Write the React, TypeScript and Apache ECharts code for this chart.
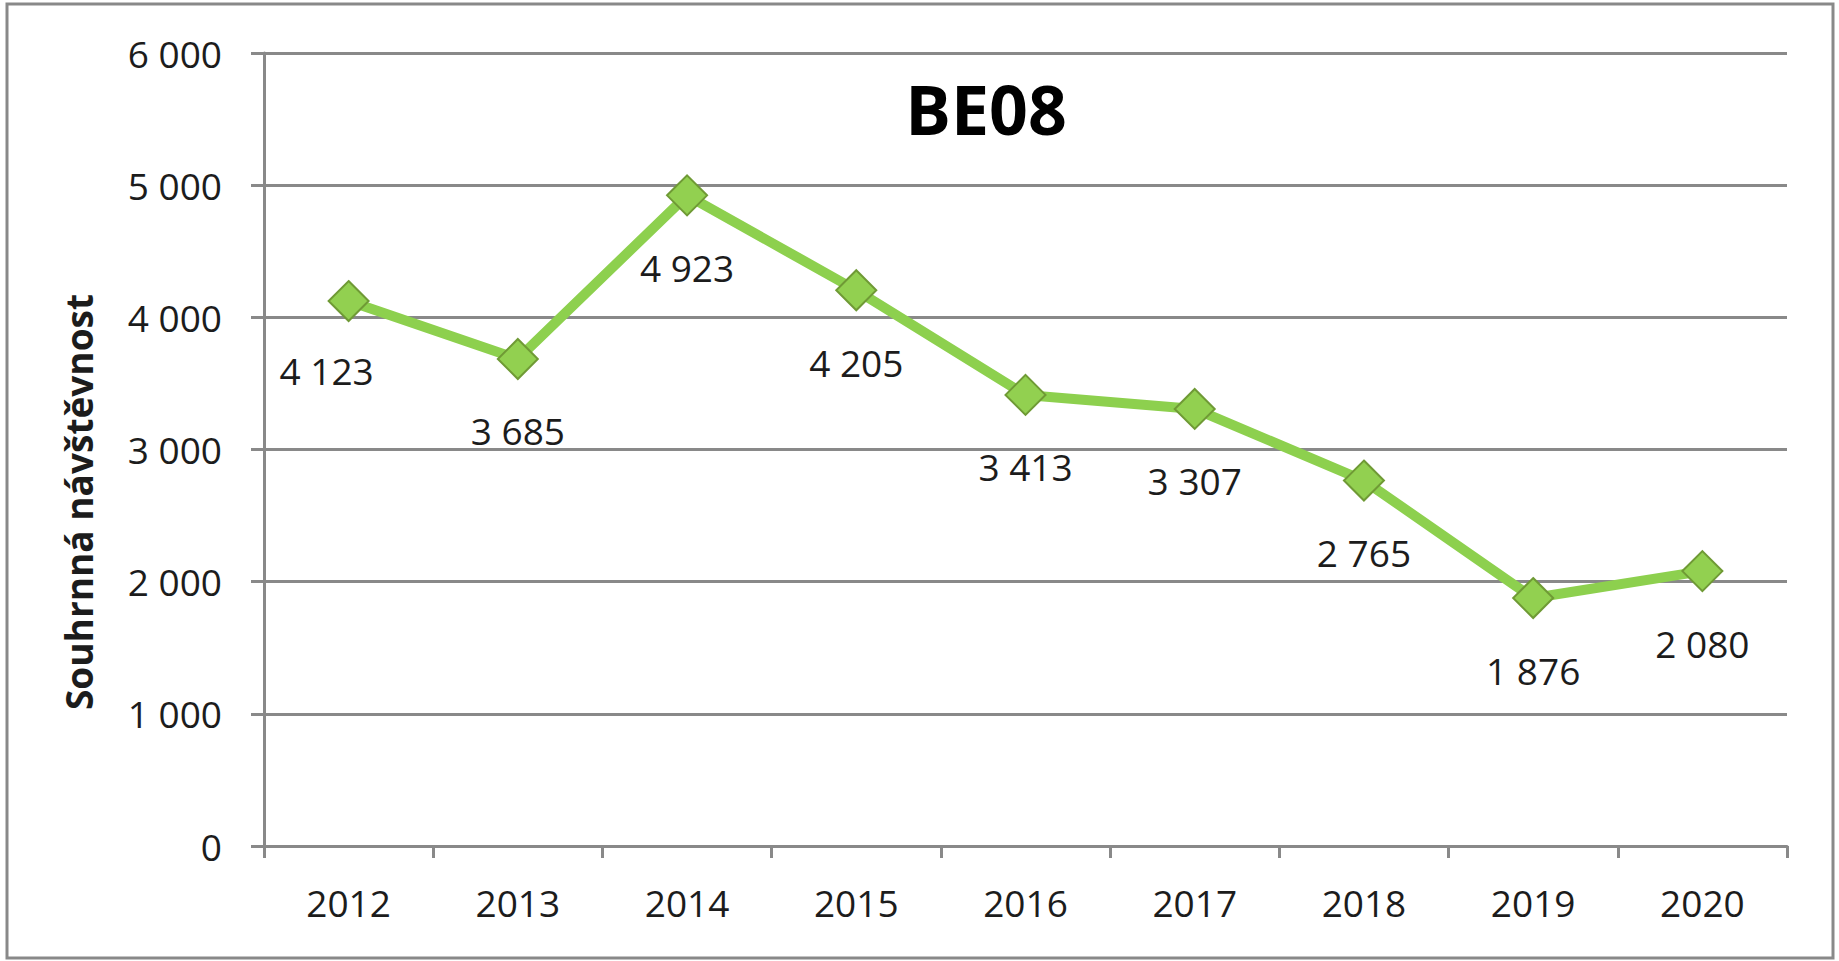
import React, { useEffect, useRef } from "react";
import * as echarts from "echarts";

const categories = ["2012", "2013", "2014", "2015", "2016", "2017", "2018", "2019", "2020"];
const visits = [4123, 3685, 4923, 4205, 3413, 3307, 2765, 1876, 2080];
const yTicks = { min: 0, max: 6000, interval: 1000 };
const titleText = "BE08";
const yAxisName = "Souhrnná návštěvnost";

const fmt = (v: number) => String(Math.round(v)).replace(/\B(?=(\d{3})+(?!\d))/g, " ");

export default function App() {
  const ref = useRef<HTMLDivElement>(null);
  useEffect(() => {
    if (!ref.current) return;
    const chart = echarts.init(ref.current, null, { renderer: "svg" });
    const FONT = "'Open Sans', 'Noto Sans', sans-serif";
    const gray = "#898989";
    const txt = "#1c1c1c";
    chart.setOption({
      animation: false,
      backgroundColor: "#ffffff",
      grid: { left: 264, right: 52, top: 53, bottom: 115, containLabel: false },
      graphic: [
        {
          type: "rect",
          shape: { x: 7, y: 4, width: 1826, height: 954 },
          style: { fill: "none", stroke: gray, lineWidth: 3 },
          z: 0,
        },
        {
          type: "text",
          x: 986,
          y: 108,
          style: {
            text: titleText,
            font: `bold 68px ${FONT}`,
            fill: "#000",
            align: "center",
            verticalAlign: "middle",
          },
          z: 10,
        },
        {
          type: "text",
          x: 78,
          y: 502,
          rotation: Math.PI / 2,
          style: {
            text: yAxisName,
            font: `bold 37px ${FONT}`,
            fill: txt,
            align: "center",
            verticalAlign: "middle",
          },
          z: 10,
        },
      ],
      xAxis: {
        type: "category",
        data: categories,
        boundaryGap: true,
        axisLine: { show: true, lineStyle: { color: gray, width: 3 } },
        axisTick: { show: true, length: 12, lineStyle: { color: gray, width: 3 } },
        axisLabel: { color: txt, fontFamily: FONT, fontSize: 37, margin: 38 },
        splitLine: { show: false },
      },
      yAxis: {
        type: "value",
        min: yTicks.min,
        max: yTicks.max,
        interval: yTicks.interval,
        axisLine: { show: true, lineStyle: { color: gray, width: 3 } },
        axisTick: { show: true, length: 13, lineStyle: { color: gray, width: 3 } },
        axisLabel: { color: txt, fontFamily: FONT, fontSize: 37, margin: 42, formatter: (v: number) => fmt(v) },
        splitLine: { show: true, lineStyle: { color: gray, width: 3 } },
      },
      series: [
        {
          type: "line",
          data: visits.map((v, i) => ({
            value: v,
            label: { offset: i === 0 ? [-22, 69] : [0, 72] },
          })),
          symbol: "diamond",
          symbolSize: 40,
          lineStyle: { color: "#8DD04E", width: 10 },
          itemStyle: { color: "#92D050", borderColor: "#6F9A35", borderWidth: 2 },
          label: {
            show: true,
            position: "inside",
            color: txt,
            fontFamily: FONT,
            fontSize: 37,
            formatter: (p: any) => fmt(p.value),
          },
          z: 5,
        },
      ],
    });
    return () => chart.dispose();
  }, []);
  return (
    <div
      ref={ref}
      style={{ position: "fixed", left: 0, top: 0, width: 1839, height: 961, background: "#fff" }}
    />
  );
}
